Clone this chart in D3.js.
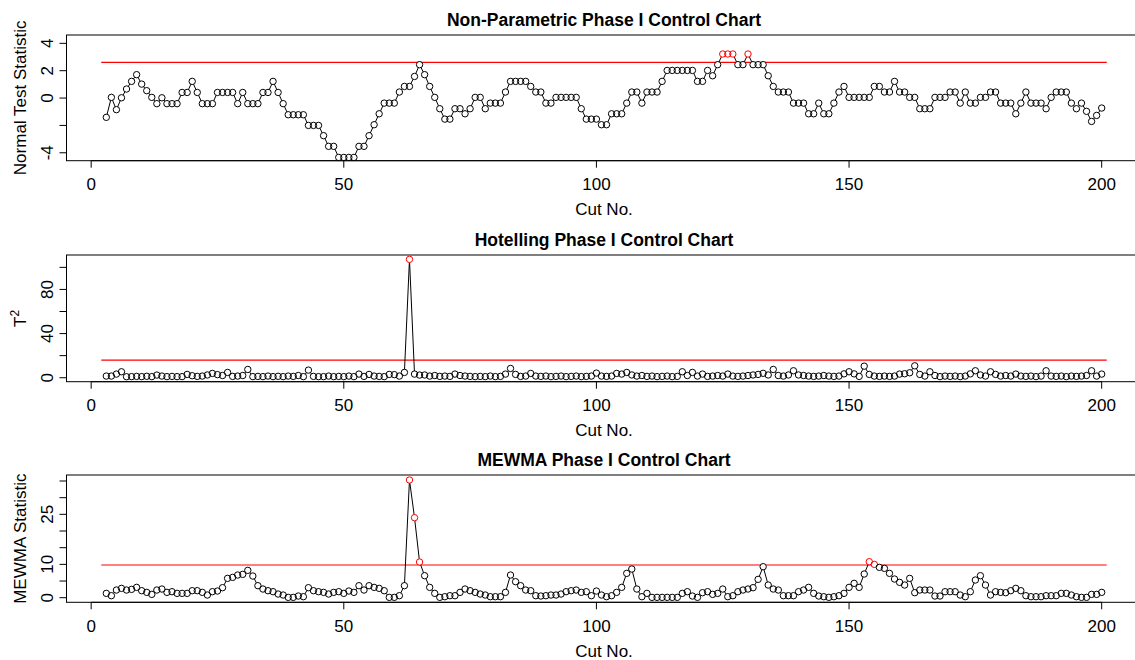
<!DOCTYPE html>
<meta charset="utf-8">
<style>
body { margin: 0; background: #fff; }
svg text { font-family: "Liberation Sans", Arial, Helvetica, sans-serif; fill: #000; }
.title { font-size: 17.5px; font-weight: bold; text-anchor: middle; }
.axlab { font-size: 17px; text-anchor: middle; }
.tick { font-size: 17px; text-anchor: middle; }
</style>
<svg width="1135" height="660"></svg>
<script src="https://cdn.jsdelivr.net/npm/d3@7"></script>
<script>

// cut numbers 3..200
var cuts = d3.range(3, 201);

var npStat = [
  -1.41, 0.05, -0.85, 0.02, 0.66, 1.22, 1.71, 1.02, 0.54, 0.05,
  -0.41, 0.02, -0.41, -0.41, -0.41, 0.41, 0.41, 1.22, 0.41, -0.41,
  -0.41, -0.41, 0.41, 0.41, 0.41, 0.41, -0.41, 0.41, -0.41, -0.41,
  -0.41, 0.41, 0.41, 1.22, 0.41, -0.41, -1.22, -1.22, -1.22, -1.22,
  -2.0, -2.0, -2.0, -2.75, -3.53, -3.53, -4.34, -4.34, -4.34, -4.34,
  -3.53, -3.53, -2.75, -1.95, -1.15, -0.37, -0.37, -0.37, 0.44, 0.85,
  0.85, 1.58, 2.44, 1.71, 0.85, 0.05, -0.78, -1.54, -1.54, -0.78,
  -0.78, -1.15, -0.78, 0.05, 0.05, -0.78, -0.37, -0.37, -0.37, 0.44,
  1.22, 1.22, 1.22, 1.22, 0.85, 0.44, 0.44, -0.37, -0.37, 0.05,
  0.05, 0.05, 0.05, 0.05, -0.78, -1.54, -1.54, -1.54, -1.95, -1.95,
  -1.15, -1.15, -1.15, -0.37, 0.44, 0.44, -0.37, 0.44, 0.44, 0.44,
  1.22, 2.02, 2.02, 2.02, 2.02, 2.02, 2.02, 1.22, 1.22, 2.02,
  1.63, 2.44, 3.22, 3.22, 3.22, 2.44, 2.44, 3.22, 2.44, 2.44,
  2.44, 1.63, 0.85, 0.44, 0.44, 0.44, -0.37, -0.37, -0.37, -1.15,
  -1.15, -0.37, -1.15, -1.15, -0.37, 0.44, 0.85, 0.05, 0.05, 0.05,
  0.05, 0.05, 0.85, 0.85, 0.44, 0.44, 1.22, 0.44, 0.44, 0.05,
  0.05, -0.78, -0.78, -0.78, 0.05, 0.05, 0.05, 0.44, 0.44, -0.37,
  0.44, -0.37, -0.37, 0.05, 0.05, 0.44, 0.44, -0.37, -0.37, -0.37,
  -1.15, -0.37, 0.44, -0.37, -0.37, -0.37, -0.78, 0.05, 0.44, 0.44,
  0.44, -0.37, -0.78, -0.37, -0.97, -1.71, -1.27, -0.73
];

var t2Stat = [
  1.5, 1.5, 3.3, 5.4, 0.9, 1.0, 1.2, 1.0, 1.3, 1.0,
  2.4, 1.5, 1.0, 1.2, 1.0, 1.0, 3.0, 1.8, 1.2, 1.5,
  2.5, 3.9, 2.8, 2.0, 4.8, 1.2, 1.5, 2.0, 7.5, 1.0,
  1.2, 1.0, 1.5, 1.0, 1.3, 1.0, 1.5, 1.2, 2.0, 1.0,
  6.9, 1.2, 1.0, 1.0, 1.5, 1.0, 1.2, 1.0, 1.5, 1.0,
  3.3, 1.2, 3.0, 1.5, 1.2, 1.0, 3.0, 2.8, 1.5, 4.8,
  107.3, 3.3, 2.4, 2.5, 1.5, 2.0, 1.2, 1.5, 1.2, 3.3,
  2.0, 1.5, 1.2, 1.0, 1.2, 1.0, 1.5, 1.0, 1.2, 3.3,
  8.4, 3.0, 1.2, 1.5, 3.9, 1.5, 1.2, 1.5, 1.0, 1.2,
  1.5, 1.0, 1.2, 1.5, 1.0, 1.2, 1.5, 4.2, 1.5, 1.2,
  1.5, 3.9, 3.3, 4.8, 2.5, 1.5, 2.0, 1.2, 1.5, 1.0,
  1.2, 1.5, 1.0, 1.2, 5.4, 2.0, 4.8, 1.5, 3.3, 1.2,
  1.5, 2.0, 1.5, 3.3, 1.5, 1.2, 1.5, 2.0, 2.5, 3.0,
  4.0, 2.5, 7.5, 2.0, 1.5, 2.5, 6.3, 2.5, 2.0, 1.5,
  1.2, 1.5, 2.0, 1.5, 1.2, 1.5, 3.5, 5.4, 3.5, 1.2,
  10.5, 3.0, 1.5, 1.2, 1.5, 1.2, 1.5, 3.3, 3.6, 4.5,
  10.8, 3.0, 1.5, 5.4, 2.0, 1.0, 1.5, 1.2, 1.5, 1.0,
  1.5, 3.5, 6.3, 2.5, 1.5, 5.4, 3.0, 1.5, 2.0, 1.5,
  3.3, 1.5, 1.2, 1.5, 1.0, 1.5, 6.3, 1.5, 1.2, 1.5,
  1.0, 1.5, 1.2, 1.5, 2.0, 6.3, 1.5, 3.3
];

var mewmaStat = [
  1.3, 0.6, 2.3, 2.8, 2.3, 2.5, 3.1, 2.1, 1.6, 1.0,
  2.3, 2.6, 1.6, 1.8, 1.3, 1.3, 1.3, 2.1, 2.1, 1.6,
  0.8, 1.8, 2.0, 3.0, 5.8, 6.1, 6.8, 7.0, 8.2, 6.5,
  3.6, 2.6, 2.1, 1.8, 1.1, 0.8, 0.1, 0.1, 0.5, 0.3,
  3.0, 2.1, 1.8, 1.6, 1.1, 1.6, 1.8, 1.3, 2.0, 1.6,
  3.6, 2.3, 3.6, 3.1, 2.8, 2.1, 0.1, 0.1, 0.6, 3.6,
  35.3, 24.0, 10.7, 6.6, 3.1, 1.3, 0.1, 0.3, 0.6, 0.6,
  1.6, 2.6, 2.1, 1.6, 1.1, 0.8, 0.3, 0.3, 0.3, 1.6,
  6.8, 4.8, 3.6, 2.3, 2.1, 0.6, 0.5, 0.6, 0.8, 0.8,
  1.1, 1.8, 2.1, 2.3, 1.6, 1.8, 0.6, 2.0, 0.8, 0.3,
  0.6, 1.6, 3.1, 7.3, 8.6, 2.6, 0.3, 1.3, 0.1, 0.1,
  0.1, 0.1, 0.1, 0.1, 1.3, 1.8, 0.5, 0.1, 1.5, 1.8,
  1.0, 1.3, 2.6, 0.3, 0.6, 1.8, 2.3, 2.6, 3.0, 5.5,
  9.3, 3.8, 2.6, 2.3, 0.6, 0.6, 0.6, 1.8, 2.3, 3.1,
  1.3, 0.5, 0.3, 0.1, 0.3, 0.6, 1.3, 3.1, 4.3, 3.1,
  7.1, 10.8, 10.0, 9.1, 8.8, 7.3, 5.6, 4.6, 3.8, 5.8,
  1.5, 2.3, 2.3, 2.3, 0.5, 0.5, 1.8, 1.8, 1.8, 0.8,
  0.3, 1.8, 5.3, 6.6, 3.8, 0.8, 1.8, 1.6, 1.5, 2.1,
  2.8, 2.1, 0.6, 0.3, 0.3, 0.3, 0.6, 0.6, 0.6, 1.3,
  1.3, 0.8, 0.3, 0.1, 0.1, 1.0, 1.0, 1.6
];

var titles = ["Non-Parametric Phase I Control Chart", "Hotelling Phase I Control Chart", "MEWMA Phase I Control Chart"];
var yTitles = ["Normal Test Statistic", "T2", "MEWMA Statistic"];
var limits = [2.61, 16.0, 9.8];
var xTicks = [0, 50, 100, 150, 200];
var yTicks = [[-4, -2, 0, 2, 4], [0, 20, 40, 60, 80, 100], [0, 5, 10, 15, 20, 25, 30, 35]];
var yTickLabels = [[-4, 0, 2, 4], [0, 40, 80], [0, 10, 25]];

var panels = [
  {values: npStat, top: 35, bottom: 160.7, ydom: [-4.58, 4.61]},
  {values: t2Stat, top: 255, bottom: 381.7, ydom: [-3.6, 111.2]},
  {values: mewmaStat, top: 475, bottom: 602.3, ydom: [-1.38, 36.8]}
];

var svg = d3.select("svg"),
    left = 66.5,
    right = 1141.5;

var x = d3.scaleLinear().domain([-4.88, 207.88]).range([left, right]);

panels.forEach(function(p, k) {
  var y = d3.scaleLinear().domain(p.ydom).range([p.bottom, p.top]);
  var g = svg.append("g");
  var pts = cuts.map(function(c, i) { return {cut: c, v: p.values[i]}; });

  // box
  g.append("rect")
      .attr("x", left).attr("y", p.top)
      .attr("width", right - left).attr("height", p.bottom - p.top)
      .attr("fill", "none").attr("stroke", "#000").attr("stroke-width", 1);

  // control limit
  g.append("line")
      .attr("x1", x(2)).attr("x2", x(201))
      .attr("y1", y(limits[k])).attr("y2", y(limits[k]))
      .attr("stroke", "#ff0000").attr("stroke-width", 1.2);

  // series
  g.append("path")
      .datum(pts)
      .attr("fill", "none").attr("stroke", "#000").attr("stroke-width", 1)
      .attr("d", d3.line().x(function(d) { return x(d.cut); }).y(function(d) { return y(d.v); }));

  g.selectAll(".blank").data(pts).enter().append("circle")
      .attr("cx", function(d) { return x(d.cut); })
      .attr("cy", function(d) { return y(d.v); })
      .attr("r", 3.2).attr("fill", "#fff");

  g.selectAll(".pt").data(pts).enter().append("circle")
      .attr("cx", function(d) { return x(d.cut); })
      .attr("cy", function(d) { return y(d.v); })
      .attr("r", 3.2).attr("fill", "none").attr("stroke-width", 1)
      .attr("stroke", function(d) { return d.v > limits[k] ? "#ff0000" : "#000"; });

  // x axis
  g.append("line")
      .attr("x1", x(0)).attr("x2", x(200))
      .attr("y1", p.bottom).attr("y2", p.bottom)
      .attr("stroke", "#000");
  xTicks.forEach(function(t) {
    g.append("line")
        .attr("x1", x(t)).attr("x2", x(t))
        .attr("y1", p.bottom).attr("y2", p.bottom + 7)
        .attr("stroke", "#000");
    g.append("text").attr("class", "tick")
        .attr("x", x(t)).attr("y", p.bottom + 29.5)
        .text(t);
  });

  // y axis
  var yt = yTicks[k];
  g.append("line")
      .attr("x1", left).attr("x2", left)
      .attr("y1", y(yt[0])).attr("y2", y(yt[yt.length - 1]))
      .attr("stroke", "#000");
  yt.forEach(function(t) {
    g.append("line")
        .attr("x1", left - 7).attr("x2", left)
        .attr("y1", y(t)).attr("y2", y(t))
        .attr("stroke", "#000");
  });
  yTickLabels[k].forEach(function(t) {
    g.append("text").attr("class", "tick")
        .attr("transform", "translate(52.5," + y(t) + ") rotate(-90)")
        .text(t);
  });

  // titles
  g.append("text").attr("class", "title")
      .attr("x", (left + right) / 2).attr("y", p.top - 9.5)
      .text(titles[k]);
  g.append("text").attr("class", "axlab")
      .attr("x", (left + right) / 2).attr("y", p.bottom + 54.5)
      .text("Cut No.");

  var yl = g.append("text").attr("class", "axlab")
      .attr("transform", "translate(25.5," + (p.top + p.bottom) / 2 + ") rotate(-90)");
  if (yTitles[k] === "T2") {
    yl.append("tspan").text("T");
    yl.append("tspan").attr("dy", -7).style("font-size", "12px").text("2");
  } else {
    yl.text(yTitles[k]);
  }
});

</script>
